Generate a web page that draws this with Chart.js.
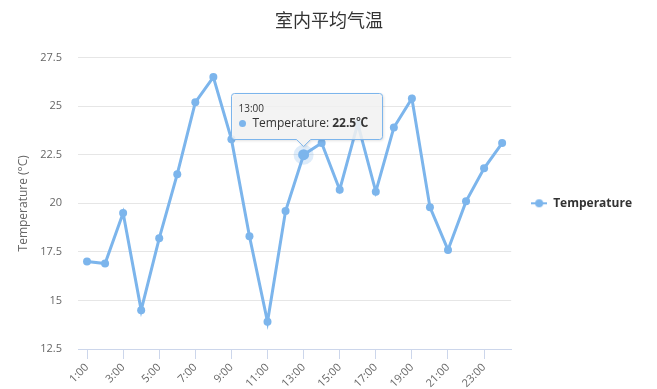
<!doctype html>
<html lang="zh">
<head>
  <meta charset="utf-8">
  <title>室内平均气温</title>
  <style>
    html, body { margin: 0; padding: 0; background: #fff; }
    #wrap { width: 657px; height: 389px; }
  </style>
</head>
<body>
  <div id="wrap"><canvas id="grafico" width="657" height="389"></canvas></div>

  <script src="https://cdn.jsdelivr.net/npm/chart.js"></script>
  <script>
    // datos
    const hours = ['1:00','2:00','3:00','4:00','5:00','6:00','7:00','8:00','9:00','10:00','11:00','12:00',
                   '13:00','14:00','15:00','16:00','17:00','18:00','19:00','20:00','21:00','22:00','23:00','24:00'];
    const temps = [17.0, 16.9, 19.5, 14.5, 18.2, 21.5, 25.2, 26.5, 23.3, 18.3, 13.9, 19.6,
                   22.5, 23.1, 20.7, 24.1, 20.6, 23.9, 25.4, 19.8, 17.6, 20.1, 21.8, 23.1];
    const yTicks = [12.5, 15, 17.5, 20, 22.5, 25, 27.5];
    const seriesName = 'Temperature';
    const unit = '℃';
    const hoverIndex = 12;

    const color = '#7cb5ec';
    const FONT = '"Open Sans", "Noto Sans CJK SC", sans-serif';
    Chart.defaults.font.family = FONT;

    // símbolo de la leyenda: línea con punto
    const sym = document.createElement('canvas');
    sym.width = 16; sym.height = 10;
    const sc = sym.getContext('2d');
    sc.strokeStyle = color; sc.fillStyle = color; sc.lineWidth = 2;
    sc.beginPath(); sc.moveTo(0, 5); sc.lineTo(16, 5); sc.stroke();
    sc.beginPath(); sc.arc(8, 5, 4, 0, Math.PI * 2); sc.fill();

    // tooltip fijo estilo highcharts
    const hoverTip = {
      id: 'hoverTip',
      afterDatasetsDraw(chart) {
        const pt = chart.getDatasetMeta(0).data[hoverIndex];
        const ctx = chart.ctx;
        ctx.save();
        ctx.fillStyle = 'rgba(124,181,236,0.25)';
        ctx.beginPath(); ctx.arc(pt.x, pt.y, 10, 0, Math.PI * 2); ctx.fill();
        ctx.fillStyle = color;
        ctx.beginPath(); ctx.arc(pt.x, pt.y, 5.5, 0, Math.PI * 2); ctx.fill();
        ctx.restore();
      },
      afterDraw(chart) {
        const pt = chart.getDatasetMeta(0).data[hoverIndex];
        const ctx = chart.ctx;
        const label = seriesName + ': ';
        const val = temps[hoverIndex] + unit;
        ctx.save();
        ctx.font = '12px ' + FONT;
        const w1 = ctx.measureText(label).width;
        ctx.font = 'bold 12px ' + FONT;
        const w2 = ctx.measureText(val).width;
        const w = Math.round(21 + w1 + w2 + 14);
        const h = 46;
        const left = Math.round(pt.x - 73) + 0.5;
        const bottom = Math.round(pt.y - 16) + 0.5;
        const top = bottom - h;
        const r = 3;
        const ax = pt.x;

        ctx.beginPath();
        ctx.moveTo(left + r, top);
        ctx.lineTo(left + w - r, top);
        ctx.arcTo(left + w, top, left + w, top + r, r);
        ctx.lineTo(left + w, bottom - r);
        ctx.arcTo(left + w, bottom, left + w - r, bottom, r);
        ctx.lineTo(ax + 7, bottom);
        ctx.lineTo(ax, bottom + 7);
        ctx.lineTo(ax - 7, bottom);
        ctx.lineTo(left + r, bottom);
        ctx.arcTo(left, bottom, left, bottom - r, r);
        ctx.lineTo(left, top + r);
        ctx.arcTo(left, top, left + r, top, r);
        ctx.closePath();

        ctx.shadowColor = 'rgba(0,0,0,0.18)';
        ctx.shadowBlur = 3;
        ctx.shadowOffsetX = 1;
        ctx.shadowOffsetY = 1;
        ctx.fillStyle = 'rgba(247,247,247,0.85)';
        ctx.fill();
        ctx.shadowColor = 'transparent';
        ctx.strokeStyle = color;
        ctx.lineWidth = 1;
        ctx.stroke();

        ctx.textBaseline = 'middle';
        ctx.fillStyle = '#333';
        ctx.font = '10px ' + FONT;
        ctx.fillText(hours[hoverIndex], left + 7, top + 16);

        ctx.fillStyle = color;
        ctx.beginPath(); ctx.arc(left + 11, top + 30, 3.5, 0, Math.PI * 2); ctx.fill();
        ctx.fillStyle = '#333';
        ctx.font = '12px ' + FONT;
        ctx.fillText(label, left + 21, top + 30);
        ctx.font = 'bold 12px ' + FONT;
        ctx.fillText(val, left + 21 + w1, top + 30);
        ctx.restore();
      }
    };

    const lienzo = document.getElementById('grafico');
    const grafico = new Chart(lienzo, {
      type: 'line',
      data: {
        labels: hours,
        datasets: [{
          label: seriesName,
          data: temps,
          borderColor: color,
          backgroundColor: color,
          borderWidth: 3,
          pointRadius: 4,
          pointBorderWidth: 0,
          pointBackgroundColor: color,
          tension: 0,
          fill: false
        }]
      },
      options: {
        responsive: false,
        animation: false,
        events: [],
        devicePixelRatio: 1,
        layout: { padding: { left: 16, right: 15, top: 0, bottom: 0 } },
        scales: {
          x: {
            type: 'category',
            offset: true,
            afterFit: s => { s.height = 40; },
            grid: {
              display: true,
              drawOnChartArea: false,
              drawTicks: true,
              tickLength: 10,
              offset: false,
              color: '#ccd6eb',
              tickColor: c => c.index % 2 === 0 ? '#ccd6eb' : 'rgba(0,0,0,0)'
            },
            border: { display: true, color: '#ccd6eb', width: 1 },
            ticks: {
              autoSkip: false,
              maxRotation: 45,
              minRotation: 45,
              color: '#666',
              font: { size: 11 },
              padding: 2,
              callback: (v, i) => i % 2 === 0 ? hours[i] : ''
            }
          },
          y: {
            min: 12.5,
            max: 27.5,
            afterBuildTicks: s => { s.ticks = yTicks.map(v => ({ value: v })); },
            afterFit: s => { s.width = 62; },
            grid: {
              color: c => c.tick && c.tick.value === 12.5 ? 'rgba(0,0,0,0)' : '#e6e6e6',
              drawTicks: false
            },
            border: { display: false },
            ticks: {
              color: '#666',
              font: { size: 11 },
              padding: 16,
              callback: v => String(v)
            },
            title: {
              display: true,
              text: 'Temperature (°C)',
              color: '#666',
              font: { size: 12 },
              padding: { top: 0, bottom: 0 }
            }
          }
        },
        plugins: {
          title: {
            display: true,
            text: '室内平均气温',
            color: '#333',
            font: { size: 18, weight: 'normal' },
            padding: { top: 11, bottom: 25 }
          },
          legend: {
            position: 'right',
            fullSize: false,
            labels: {
              usePointStyle: true,
              pointStyleWidth: 16,
              padding: 20,
              color: '#333',
              font: { size: 12, weight: 'bold' },
              generateLabels: () => [{
                text: seriesName,
                pointStyle: sym,
                fillStyle: color,
                strokeStyle: color,
                lineWidth: 0,
                hidden: false,
                datasetIndex: 0,
                fontColor: '#333'
              }]
            }
          },
          tooltip: { enabled: false }
        }
      },
      plugins: [hoverTip]
    });
  </script>
</body>
</html>
